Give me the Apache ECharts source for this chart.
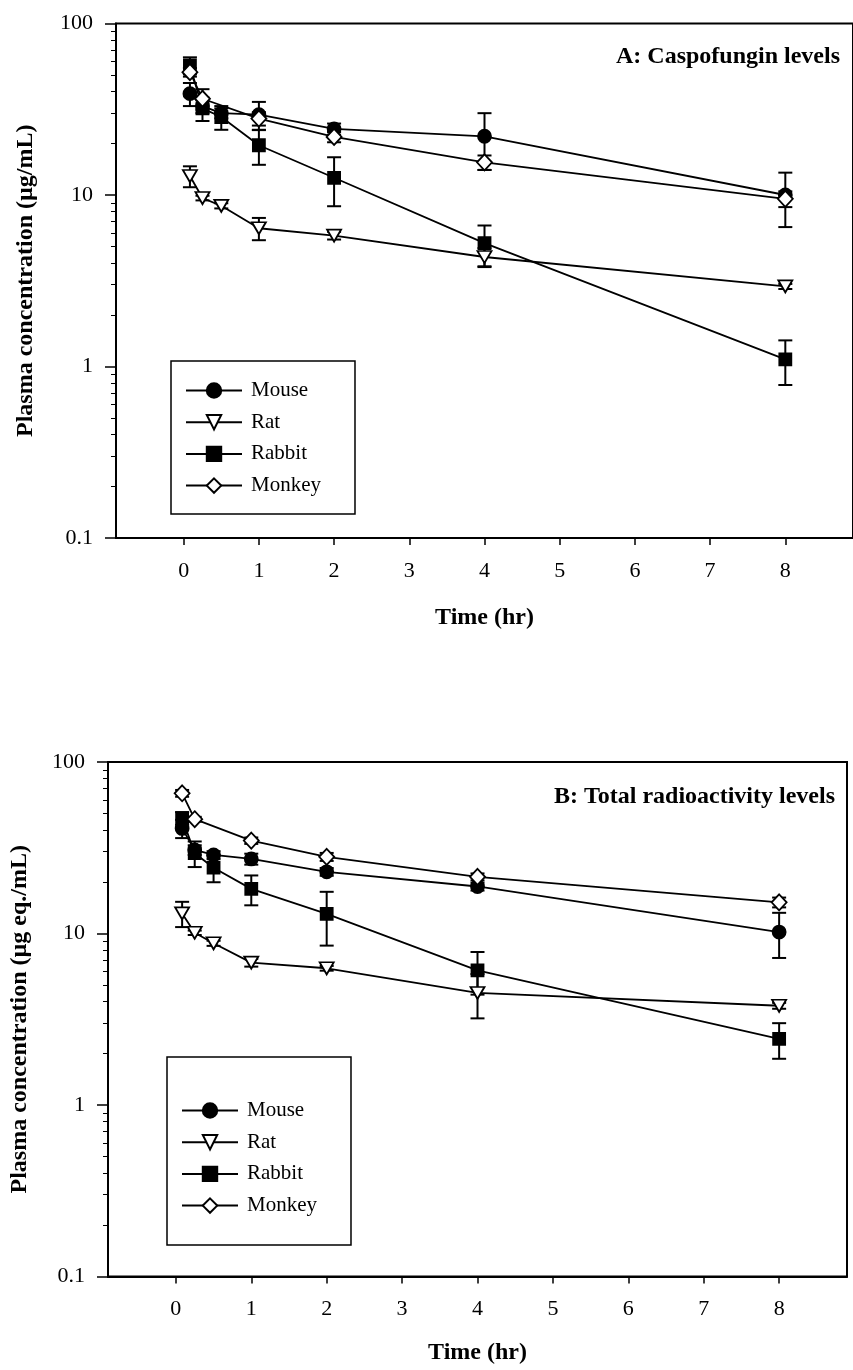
<!DOCTYPE html>
<html><head><meta charset="utf-8">
<script src="https://cdn.jsdelivr.net/npm/echarts@6/dist/echarts.min.js"></script>
<style>html,body{margin:0;padding:0;background:#fff}#c{width:853px;height:1370px}</style>
</head><body><div id="c"></div>
<script>
// ---------- data ----------
const species = ['Mouse', 'Rat', 'Rabbit', 'Monkey'];
const xTickValues = [0, 1, 2, 3, 4, 5, 6, 7, 8];
const yMajorTicks = [0.1, 1, 10, 100];
const yMinorTicks = [0.2,0.3,0.4,0.5,0.6,0.7,0.8,0.9,2,3,4,5,6,7,8,9,20,30,40,50,60,70,80,90];
const panelTitles = ['A: Caspofungin levels', 'B: Total radioactivity levels'];
const yAxisTitles = ['Plasma concentration (\u00b5g/mL)', 'Plasma concentration (\u00b5g eq./mL)'];
const xAxisTitle = 'Time (hr)';

const timesAll = [0.083, 0.25, 0.5, 1, 2, 4, 8];
const timesMonkey = [0.083, 0.25, 1, 2, 4, 8];

// Panel A: caspofungin (mean, SD)
const aMouse = [39, 33, 30, 29.4, 24.3, 22, 10];
const aMouseErr = [6, 3, 2, 5.5, 1.8, 8, 3.5];
const aRat = [12.9, 9.6, 8.65, 6.4, 5.8, 4.35, 2.93];
const aRatErr = [1.8, 0.3, 0.3, 0.95, 0.3, 0.55, 0.1];
const aRabbit = [57, 32, 28.5, 19.5, 12.6, 5.24, 1.1];
const aRabbitErr = [6.5, 5, 4.5, 4.5, 4, 1.4, 0.32];
const aMonkey = [52, 36.4, 27.9, 21.8, 15.5, 9.5];
const aMonkeyErr = [3, 5, 2.5, 1.5, 1.5, 1];

// Panel B: total radioactivity (mean, SD)
const bMouse = [41, 30.7, 28.7, 27.2, 22.9, 18.8, 10.2];
const bMouseErr = [5, 2, 1.5, 2, 1.2, 1, 3];
const bRat = [13.1, 10.1, 8.77, 6.76, 6.27, 4.5, 3.79];
const bRatErr = [2.2, 0.3, 0.3, 0.35, 0.2, 1.3, 0.15];
const bRabbit = [47, 29.4, 24.2, 18.2, 13.0, 6.1, 2.43];
const bRabbitErr = [4, 5, 4.3, 3.6, 4.5, 1.7, 0.57];
const bMonkey = [65.7, 46.4, 34.8, 28.0, 21.4, 15.2];
const bMonkeyErr = [3, 1.5, 1.5, 1.5, 1, 1];

// ---------- build ----------
const FONT = 'Liberation Serif';
const symbols = {
  Mouse:  {symbol: 'circle', symbolSize: 13, fill: '#000', rotate: 0},
  Rat:    {symbol: 'triangle', symbolSize: [14, 12], fill: '#fff', rotate: 180},
  Rabbit: {symbol: 'rect', symbolSize: 12, fill: '#000', rotate: 0},
  Monkey: {symbol: 'diamond', symbolSize: [15, 16], fill: '#fff', rotate: 0}
};
const panels = [
  {Mouse: [timesAll, aMouse, aMouseErr], Rat: [timesAll, aRat, aRatErr], Rabbit: [timesAll, aRabbit, aRabbitErr], Monkey: [timesMonkey, aMonkey, aMonkeyErr]},
  {Mouse: [timesAll, bMouse, bMouseErr], Rat: [timesAll, bRat, bRatErr], Rabbit: [timesAll, bRabbit, bRabbitErr], Monkey: [timesMonkey, bMonkey, bMonkeyErr]}
];

function errRender(params, api) {
  const x = api.value(0), lo = api.value(1), hi = api.value(2);
  const p1 = api.coord([x, hi]), p2 = api.coord([x, lo]);
  const w = 7, st = {stroke: '#000', lineWidth: 2};
  return {type: 'group', children: [
    {type: 'line', shape: {x1: p1[0], y1: p1[1], x2: p2[0], y2: p2[1]}, style: st},
    {type: 'line', shape: {x1: p1[0] - w, y1: p1[1], x2: p1[0] + w, y2: p1[1]}, style: st},
    {type: 'line', shape: {x1: p2[0] - w, y1: p2[1], x2: p2[0] + w, y2: p2[1]}, style: st}
  ]};
}

const grids = [
  {left: 116, top: 23.5, width: 740, height: 514.5},
  {left: 108, top: 762, width: 739, height: 514.5}
];
const xAxes = [], yAxes = [], series = [];
grids.forEach((g, i) => {
  g.show = true; g.borderColor = '#000'; g.borderWidth = 2; g.containLabel = false;
  xAxes.push({
    gridIndex: i, type: 'value', min: -0.9, max: 8.9, position: 'bottom',
    axisLine: {show: true, onZero: false, lineStyle: {color: '#000', width: 2}},
    axisTick: {show: true, length: 7, lineStyle: {color: '#000', width: 1.5}, customValues: xTickValues},
    axisLabel: {customValues: xTickValues, color: '#000', fontFamily: FONT, fontSize: 22, margin: 22},
    splitLine: {show: false},
    name: xAxisTitle, nameLocation: 'middle', nameGap: i === 0 ? 68 : 64,
    nameTextStyle: {color: '#000', fontFamily: FONT, fontSize: 24, fontWeight: 'bold'}
  });
  yAxes.push({
    gridIndex: i, type: 'log', logBase: 10, min: 0.1, max: 100, position: 'left',
    axisLine: {show: true, onZero: false, lineStyle: {color: '#000', width: 2}},
    axisTick: {show: true, length: 11, lineStyle: {color: '#000', width: 1.5}, customValues: yMajorTicks},
    axisLabel: {customValues: yMajorTicks, color: '#000', fontFamily: FONT, fontSize: 22, margin: 23,
      formatter: v => String(v)},
    splitLine: {show: false},
    name: yAxisTitles[i], nameLocation: 'middle', nameGap: i === 0 ? 78 : 76,
    nameTextStyle: {color: '#000', fontFamily: FONT, fontSize: 24, fontWeight: 'bold'}
  });
  yAxes.push({
    gridIndex: i, type: 'log', logBase: 10, min: 0.1, max: 100, position: 'left', offset: 0,
    axisLine: {show: false, onZero: false},
    axisTick: {show: true, length: 5, lineStyle: {color: '#000', width: 1}, customValues: yMinorTicks},
    axisLabel: {show: false}, splitLine: {show: false}
  });
  species.forEach(sp => {
    const [t, v, e] = panels[i][sp];
    series.push({
      type: 'custom', name: sp + ' SD', xAxisIndex: i, yAxisIndex: i * 2, z: 1,
      renderItem: errRender, encode: {x: 0, y: [1, 2]},
      data: t.map((tt, k) => [tt, v[k] - e[k], v[k] + e[k]]), silent: true
    });
  });
  species.forEach(sp => {
    const [t, v] = panels[i][sp];
    const s = symbols[sp];
    series.push({
      type: 'line', name: sp, xAxisIndex: i, yAxisIndex: i * 2, z: 3,
      data: t.map((tt, k) => [tt, v[k]]),
      symbol: s.symbol, symbolSize: s.symbolSize, symbolRotate: s.rotate, showAllSymbol: true,
      lineStyle: {color: '#000', width: 1.8},
      itemStyle: {color: s.fill, borderColor: '#000', borderWidth: 1.8, opacity: 1},
      emphasis: {disabled: true}, animation: false
    });
  });
});

const legendCommon = {
  data: species, orient: 'vertical', show: true,
  borderColor: '#000', borderWidth: 1.5, borderRadius: 0,
  itemWidth: 56, itemHeight: 18, itemGap: 10.7,
  textStyle: {color: '#000', fontFamily: FONT, fontSize: 21, lineHeight: 20, padding: [0, 0, 0, 4]},
  selectedMode: false
};
const option = {
  backgroundColor: '#fff',
  animation: false,
  title: [
    {text: panelTitles[0], right: 8, top: 40, textStyle: {color: '#000', fontFamily: FONT, fontSize: 24, fontWeight: 'bold'}},
    {text: panelTitles[1], right: 13, top: 780, textStyle: {color: '#000', fontFamily: FONT, fontSize: 24, fontWeight: 'bold'}}
  ],
  legend: [
    Object.assign({left: 171, top: 361, padding: [19, 34, 18, 14]}, legendCommon),
    Object.assign({left: 167, top: 1057, padding: [43, 34, 29, 14]}, legendCommon)
  ],
  grid: grids, xAxis: xAxes, yAxis: yAxes, series: series
};
const chart = echarts.init(document.getElementById('c'), null, {renderer: 'canvas'});
chart.setOption(option);
</script></body></html>
